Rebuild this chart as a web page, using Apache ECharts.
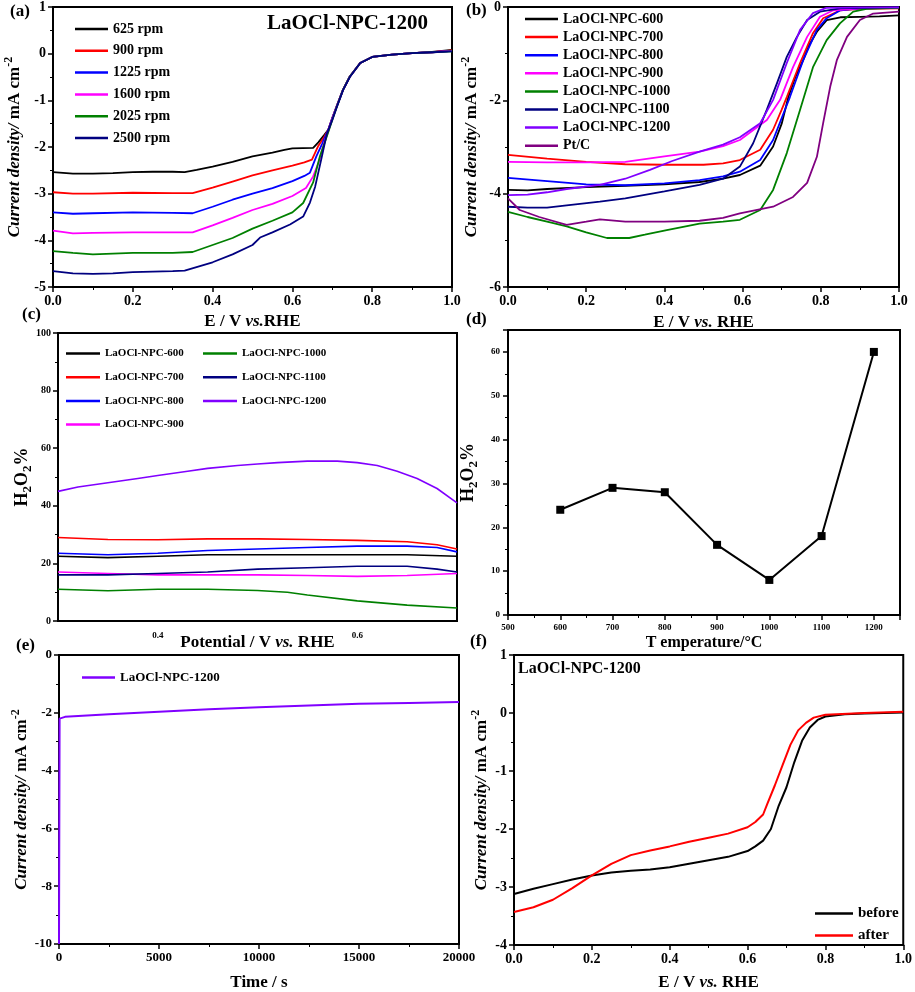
<!DOCTYPE html>
<html><head><meta charset="utf-8">
<script src="https://cdn.jsdelivr.net/npm/echarts@6/dist/echarts.min.js"></script>
<style>html,body{margin:0;padding:0;background:#fff}#c{width:915px;height:992px}</style>
</head><body><div id="c"></div>
<script>
// ---------- Panel (a): LSV at different rotation speeds ----------
const aNames = ['625 rpm','900 rpm','1225 rpm','1600 rpm','2025 rpm','2500 rpm'];
const aColors = ['#000000','#ff0000','#0000ff','#ff00ff','#008000','#000080'];
const a625 = [[0,-2.54],[0.05,-2.57],[0.1,-2.57],[0.15,-2.56],[0.2,-2.54],[0.25,-2.53],[0.3,-2.53],[0.33,-2.54],[0.36,-2.49],[0.4,-2.42],[0.45,-2.32],[0.5,-2.2],[0.55,-2.12],[0.58,-2.06],[0.6,-2.03],[0.652,-2.02],[0.665,-1.9],[0.68,-1.74],[0.69,-1.63],[0.7,-1.38],[0.711,-1.13],[0.727,-0.77],[0.744,-0.49],[0.77,-0.2],[0.8,-0.07],[0.85,-0.02],[0.9,0.01],[0.95,0.04],[1.0,0.08]];
const a900 = [[0,-2.97],[0.05,-3.0],[0.1,-3.0],[0.2,-2.98],[0.3,-2.99],[0.35,-2.99],[0.4,-2.87],[0.45,-2.74],[0.5,-2.61],[0.55,-2.5],[0.6,-2.4],[0.63,-2.33],[0.649,-2.27],[0.664,-1.99],[0.68,-1.78],[0.69,-1.63],[0.7,-1.38],[0.711,-1.13],[0.727,-0.77],[0.744,-0.49],[0.77,-0.2],[0.8,-0.07],[0.85,-0.02],[0.9,0.01],[0.95,0.03],[1.0,0.07]];
const a1225 = [[0,-3.4],[0.05,-3.43],[0.1,-3.42],[0.2,-3.4],[0.3,-3.41],[0.35,-3.42],[0.4,-3.28],[0.45,-3.13],[0.5,-3.0],[0.55,-2.88],[0.6,-2.73],[0.63,-2.62],[0.644,-2.55],[0.66,-2.2],[0.675,-1.92],[0.69,-1.63],[0.7,-1.38],[0.711,-1.13],[0.727,-0.77],[0.744,-0.49],[0.77,-0.2],[0.8,-0.07],[0.85,-0.02],[0.9,0.01],[0.95,0.03],[1.0,0.06]];
const a1600 = [[0,-3.79],[0.05,-3.85],[0.1,-3.84],[0.2,-3.83],[0.3,-3.83],[0.35,-3.83],[0.4,-3.68],[0.45,-3.52],[0.5,-3.35],[0.55,-3.22],[0.6,-3.05],[0.634,-2.88],[0.652,-2.63],[0.667,-2.3],[0.68,-1.9],[0.69,-1.66],[0.7,-1.4],[0.711,-1.13],[0.727,-0.77],[0.744,-0.49],[0.77,-0.2],[0.8,-0.07],[0.85,-0.02],[0.9,0.01],[0.95,0.03],[1.0,0.06]];
const a2025 = [[0,-4.23],[0.05,-4.27],[0.1,-4.3],[0.2,-4.27],[0.3,-4.27],[0.35,-4.25],[0.4,-4.1],[0.45,-3.95],[0.5,-3.75],[0.55,-3.58],[0.6,-3.4],[0.627,-3.2],[0.652,-2.76],[0.669,-2.2],[0.69,-1.68],[0.7,-1.42],[0.711,-1.14],[0.727,-0.77],[0.744,-0.49],[0.77,-0.2],[0.8,-0.07],[0.85,-0.02],[0.9,0.01],[0.95,0.03],[1.0,0.05]];
const a2500 = [[0,-4.66],[0.05,-4.71],[0.1,-4.72],[0.15,-4.71],[0.2,-4.68],[0.3,-4.66],[0.33,-4.65],[0.4,-4.47],[0.45,-4.3],[0.5,-4.1],[0.519,-3.94],[0.55,-3.83],[0.594,-3.66],[0.627,-3.49],[0.644,-3.19],[0.657,-2.85],[0.674,-2.2],[0.686,-1.73],[0.7,-1.42],[0.711,-1.15],[0.727,-0.78],[0.744,-0.5],[0.77,-0.2],[0.8,-0.07],[0.85,-0.02],[0.9,0.01],[0.95,0.03],[1.0,0.05]];
const aData = [a625,a900,a1225,a1600,a2025,a2500];

// ---------- Panel (b): LSV of the samples ----------
const bNames = ['LaOCl-NPC-600','LaOCl-NPC-700','LaOCl-NPC-800','LaOCl-NPC-900','LaOCl-NPC-1000','LaOCl-NPC-1100','LaOCl-NPC-1200','Pt/C'];
const bColors = ['#000000','#ff0000','#0000ff','#ff00ff','#008000','#000080','#8000ff','#800080'];
const b600 = [[0,-3.92],[0.05,-3.93],[0.1,-3.9],[0.2,-3.86],[0.3,-3.83],[0.4,-3.8],[0.49,-3.75],[0.55,-3.68],[0.593,-3.6],[0.645,-3.4],[0.678,-2.99],[0.7,-2.5],[0.717,-1.93],[0.735,-1.5],[0.755,-1.14],[0.77,-0.82],[0.79,-0.53],[0.815,-0.28],[0.85,-0.22],[0.9,-0.21],[0.95,-0.2],[1.0,-0.18]];
const b700 = [[0,-3.17],[0.1,-3.25],[0.2,-3.32],[0.3,-3.37],[0.4,-3.38],[0.5,-3.38],[0.55,-3.35],[0.593,-3.28],[0.645,-3.06],[0.678,-2.63],[0.7,-2.2],[0.713,-1.93],[0.747,-1.2],[0.78,-0.56],[0.806,-0.24],[0.85,-0.07],[0.9,-0.04],[1.0,-0.03]];
const b800 = [[0,-3.66],[0.1,-3.73],[0.2,-3.8],[0.3,-3.82],[0.4,-3.78],[0.49,-3.71],[0.55,-3.63],[0.593,-3.53],[0.645,-3.28],[0.678,-2.85],[0.721,-1.93],[0.755,-1.14],[0.79,-0.49],[0.815,-0.24],[0.85,-0.07],[0.9,-0.03],[1.0,-0.02]];
const b900 = [[0,-3.32],[0.1,-3.33],[0.2,-3.33],[0.3,-3.32],[0.4,-3.2],[0.49,-3.1],[0.55,-2.98],[0.593,-2.85],[0.662,-2.42],[0.696,-1.99],[0.729,-1.29],[0.765,-0.64],[0.798,-0.21],[0.832,-0.07],[0.9,-0.03],[1.0,-0.02]];
const b1000 = [[0,-4.39],[0.05,-4.5],[0.1,-4.6],[0.15,-4.7],[0.2,-4.83],[0.253,-4.95],[0.31,-4.95],[0.35,-4.88],[0.406,-4.78],[0.49,-4.64],[0.55,-4.6],[0.593,-4.56],[0.645,-4.35],[0.678,-3.92],[0.713,-3.13],[0.747,-2.2],[0.78,-1.29],[0.815,-0.71],[0.849,-0.35],[0.883,-0.1],[0.917,-0.04],[1.0,-0.02]];
const b1100 = [[0,-4.28],[0.05,-4.3],[0.1,-4.3],[0.15,-4.25],[0.235,-4.17],[0.3,-4.1],[0.4,-3.95],[0.49,-3.81],[0.55,-3.68],[0.593,-3.42],[0.627,-2.92],[0.662,-2.2],[0.688,-1.63],[0.713,-1.07],[0.739,-0.64],[0.765,-0.28],[0.798,-0.1],[0.85,-0.03],[1.0,-0.01]];
const b1200 = [[0,-4.03],[0.05,-4.02],[0.1,-3.97],[0.15,-3.9],[0.235,-3.81],[0.3,-3.68],[0.363,-3.49],[0.42,-3.3],[0.49,-3.1],[0.55,-2.95],[0.593,-2.79],[0.645,-2.49],[0.678,-1.99],[0.713,-1.2],[0.747,-0.49],[0.78,-0.13],[0.814,-0.02],[0.9,-0.01],[1.0,-0.01]];
const bPtC = [[0,-4.1],[0.03,-4.35],[0.08,-4.5],[0.15,-4.67],[0.2,-4.6],[0.235,-4.55],[0.3,-4.6],[0.4,-4.6],[0.49,-4.58],[0.55,-4.52],[0.593,-4.42],[0.678,-4.28],[0.729,-4.07],[0.765,-3.77],[0.79,-3.21],[0.806,-2.49],[0.824,-1.71],[0.841,-1.14],[0.867,-0.64],[0.9,-0.28],[0.934,-0.14],[1.0,-0.1]];
const bData = [b600,b700,b800,b900,b1000,b1100,b1200,bPtC];

// ---------- Panel (c): H2O2 yield vs potential ----------
const cNames = ['LaOCl-NPC-600','LaOCl-NPC-700','LaOCl-NPC-800','LaOCl-NPC-900','LaOCl-NPC-1000','LaOCl-NPC-1100','LaOCl-NPC-1200'];
const cColors = ['#000000','#ff0000','#0000ff','#ff00ff','#008000','#000080','#8000ff'];
const c600 = [[0.3,22.5],[0.35,22],[0.4,22.5],[0.45,23],[0.5,23],[0.55,23],[0.6,23],[0.65,23],[0.7,22.5]];
const c700 = [[0.3,29],[0.35,28.3],[0.4,28.2],[0.45,28.5],[0.5,28.5],[0.55,28.3],[0.6,28],[0.65,27.5],[0.68,26.5],[0.7,25]];
const c800 = [[0.3,23.5],[0.35,23],[0.4,23.5],[0.45,24.5],[0.5,25],[0.55,25.5],[0.6,26],[0.65,26],[0.68,25.5],[0.7,24]];
const c900 = [[0.3,17],[0.35,16.5],[0.4,16],[0.5,16],[0.55,15.8],[0.6,15.5],[0.65,15.8],[0.7,16.5]];
const c1000 = [[0.3,11],[0.35,10.5],[0.4,11],[0.45,11],[0.5,10.6],[0.53,10],[0.55,9],[0.6,7],[0.65,5.5],[0.7,4.5]];
const c1100 = [[0.3,16],[0.35,16],[0.4,16.5],[0.45,17],[0.5,18],[0.55,18.5],[0.6,19],[0.65,19],[0.68,18],[0.7,17]];
const c1200 = [[0.3,45],[0.32,46.5],[0.35,48],[0.38,49.5],[0.4,50.5],[0.43,52],[0.45,53],[0.48,54],[0.5,54.5],[0.52,55],[0.55,55.5],[0.58,55.5],[0.6,55],[0.62,54],[0.64,52],[0.66,49.5],[0.68,46],[0.7,41]];
const cData = [c600,c700,c800,c900,c1000,c1100,c1200];

// ---------- Panel (d): H2O2 % vs temperature ----------
const dTemps = [600,700,800,900,1000,1100,1200];
const dH2O2 = [24,29,28,16,8,18,60];

// ---------- Panel (e): chronoamperometry ----------
const eTime = [0,30,300,2500,5000,7500,10000,12500,15000,17500,20000];
const eCurrent = [-10,-2.2,-2.14,-2.05,-1.96,-1.88,-1.81,-1.75,-1.69,-1.66,-1.63];

// ---------- Panel (f): before / after ----------
const fBefore = [[0,-3.12],[0.05,-3.03],[0.1,-2.95],[0.15,-2.87],[0.2,-2.8],[0.25,-2.75],[0.3,-2.72],[0.35,-2.7],[0.4,-2.66],[0.45,-2.6],[0.5,-2.54],[0.55,-2.48],[0.6,-2.38],[0.62,-2.3],[0.64,-2.2],[0.66,-2.0],[0.68,-1.6],[0.7,-1.28],[0.72,-0.85],[0.74,-0.48],[0.76,-0.25],[0.78,-0.12],[0.8,-0.06],[0.85,-0.02],[0.9,-0.01],[1.0,0.01]];
const fAfter = [[0,-3.43],[0.05,-3.35],[0.1,-3.22],[0.15,-3.02],[0.2,-2.8],[0.25,-2.6],[0.3,-2.45],[0.35,-2.37],[0.4,-2.3],[0.45,-2.22],[0.5,-2.15],[0.55,-2.08],[0.6,-1.97],[0.62,-1.88],[0.64,-1.75],[0.65,-1.58],[0.67,-1.25],[0.69,-0.9],[0.71,-0.55],[0.73,-0.3],[0.75,-0.17],[0.77,-0.08],[0.8,-0.03],[0.9,0.0],[1.0,0.02]];

// ================= build =================
const FF = '"Liberation Serif","Times New Roman",serif';
const chart = echarts.init(document.getElementById('c'));

const grids = [
  {left:53, top:7, width:399, height:280},
  {left:508, top:7, width:391, height:280},
  {left:58, top:333, width:399, height:288},
  {left:508, top:330, width:392, height:285},
  {left:59, top:655, width:400, height:291},
  {left:514, top:655, width:390, height:291}
].map(g => Object.assign({show:true, borderColor:'#000', borderWidth:2, containLabel:false}, g));

function axisBase(fs){
  return {
    nameMoveOverlap:false,
    axisLine:{show:true, onZero:false, lineStyle:{color:'#000', width:2}},
    axisTick:{show:true, length:5, lineStyle:{color:'#000', width:1.5}},
    minorTick:{show:true, splitNumber:2, length:3, lineStyle:{color:'#000', width:1}},
    splitLine:{show:false},
    axisLabel:{color:'#000', fontFamily:FF, fontWeight:'bold', fontSize:fs, margin:7, formatter:v => String(v)}
  };
}
const nameStyle = (fs) => ({
  color:'#000', fontFamily:FF, fontWeight:'bold', fontSize:fs,
  rich:{
    n:{fontFamily:FF, fontWeight:'bold', fontSize:fs, color:'#000', lineHeight:fs+6},
    i:{fontFamily:FF, fontWeight:'bold', fontStyle:'italic', fontSize:fs, color:'#000', lineHeight:fs+6},
    s:{fontFamily:FF, fontWeight:'bold', fontSize:Math.round(fs*0.7), color:'#000', verticalAlign:'top', lineHeight:fs+6},
    sub:{fontFamily:FF, fontWeight:'bold', fontSize:Math.round(fs*0.7), color:'#000', verticalAlign:'bottom', lineHeight:fs+6}
  }
});
const curName = '{i|Current density/}{n| mA cm}{s|-2}';
const h2o2Name = '{n|H}{sub|2}{n|O}{sub|2}{n|%}';
const fmt1 = v => v.toFixed(1);

const xAxes = [
  Object.assign(axisBase(14), {gridIndex:0, type:'value', min:0, max:1, interval:0.2, name:'{n|E / V }{i|vs.}{n|RHE}', nameLocation:'middle', nameGap:23, nameTextStyle:nameStyle(17), axisLabel:Object.assign(axisBase(14).axisLabel,{formatter:fmt1})}),
  Object.assign(axisBase(14), {gridIndex:1, type:'value', min:0, max:1, interval:0.2, name:'{n|E / V }{i|vs.}{n| RHE}', nameLocation:'middle', nameGap:24, nameTextStyle:nameStyle(17), axisLabel:Object.assign(axisBase(14).axisLabel,{formatter:fmt1})}),
  Object.assign(axisBase(9), {gridIndex:2, type:'value', min:0.3, max:0.7, interval:0.1, name:'{n|Potential / V }{i|vs.}{n| RHE}', nameLocation:'middle', nameGap:10, nameTextStyle:nameStyle(17),
    axisTick:{show:false}, minorTick:{show:false},
    axisLabel:{color:'#000', fontFamily:FF, fontWeight:'bold', fontSize:9, margin:10, formatter:v => (Math.abs(v-0.4)<1e-6||Math.abs(v-0.6)<1e-6)? v.toFixed(1):''}}),
  Object.assign(axisBase(9), {gridIndex:3, type:'value', min:500, max:1250, interval:100, name:'{n|T emperature/°C}', nameLocation:'middle', nameGap:17, nameTextStyle:nameStyle(16),
    axisLabel:{color:'#000', fontFamily:FF, fontWeight:'bold', fontSize:9, margin:8, formatter:v => (v%100===0)? String(v):''}}),
  Object.assign(axisBase(13), {gridIndex:4, type:'value', min:0, max:20000, interval:5000, name:'{n|Time / s}', nameLocation:'middle', nameGap:27, nameTextStyle:nameStyle(17)}),
  Object.assign(axisBase(14), {gridIndex:5, type:'value', min:0, max:1, interval:0.2, name:'{n|E / V }{i|vs.}{n| RHE}', nameLocation:'middle', nameGap:26, nameTextStyle:nameStyle(17), axisLabel:Object.assign(axisBase(14).axisLabel,{formatter:fmt1})})
];
const yAxes = [
  Object.assign(axisBase(14), {gridIndex:0, type:'value', min:-5, max:1, interval:1, name:curName, nameLocation:'middle', nameGap:27, nameTextStyle:nameStyle(17)}),
  Object.assign(axisBase(14), {gridIndex:1, type:'value', min:-6, max:0, interval:2, name:curName, nameLocation:'middle', nameGap:25, nameTextStyle:nameStyle(17)}),
  Object.assign(axisBase(10), {gridIndex:2, type:'value', min:0, max:100, interval:20, name:h2o2Name, nameLocation:'middle', nameGap:24, nameTextStyle:nameStyle(18)}),
  Object.assign(axisBase(9), {gridIndex:3, type:'value', min:0, max:65, interval:10, name:h2o2Name, nameLocation:'middle', nameGap:28, nameTextStyle:nameStyle(18),
    axisLabel:{color:'#000', fontFamily:FF, fontWeight:'bold', fontSize:9, margin:8, formatter:v => (v%10===0)? String(v):''}}),
  Object.assign(axisBase(13), {gridIndex:4, type:'value', min:-10, max:0, interval:2, name:curName, nameLocation:'middle', nameGap:26, nameTextStyle:nameStyle(17)}),
  Object.assign(axisBase(14), {gridIndex:5, type:'value', min:-4, max:1, interval:1, name:curName, nameLocation:'middle', nameGap:21, nameTextStyle:nameStyle(17)})
];

const series = [];
function addLine(name, data, color, gi, w){
  series.push({type:'line', name:name, data:data, xAxisIndex:gi, yAxisIndex:gi, symbol:'none', smooth:false,
    lineStyle:{color:color, width:w||1.8}, itemStyle:{color:color}, animation:false});
}
aNames.forEach((n,i)=>addLine(n, aData[i], aColors[i], 0));
bNames.forEach((n,i)=>addLine(n, bData[i], bColors[i], 1));
cNames.forEach((n,i)=>addLine(n, cData[i], cColors[i], 2, 1.6));
series.push({type:'line', name:'H2O2', data:dTemps.map((t,i)=>[t,dH2O2[i]]), xAxisIndex:3, yAxisIndex:3,
  symbol:'rect', symbolSize:8, lineStyle:{color:'#000', width:2}, itemStyle:{color:'#000'}, animation:false});
addLine('LaOCl-NPC-1200 ', eTime.map((t,i)=>[t,eCurrent[i]]), '#8000ff', 4, 2);
addLine('before', fBefore, '#000000', 5, 2);
addLine('after', fAfter, '#ff0000', 5, 2);

const legTxt = (fs) => ({color:'#000', fontFamily:FF, fontWeight:'bold', fontSize:fs, lineHeight:fs});
const legBase = {orient:'vertical', icon:'rect', itemHeight:2.5, selectedMode:false};
const legends = [
  Object.assign({}, legBase, {data:aNames, left:70, top:17, itemWidth:33, itemGap:7.8, textStyle:legTxt(14)}),
  Object.assign({}, legBase, {data:bNames, left:520, top:7, itemWidth:33, itemGap:4.1, textStyle:legTxt(14)}),
  Object.assign({}, legBase, {data:cNames.slice(0,4), left:61, top:343, itemWidth:34, itemGap:12.7, textStyle:legTxt(11)}),
  Object.assign({}, legBase, {data:cNames.slice(4), left:198, top:343, itemWidth:34, itemGap:12.7, textStyle:legTxt(11)}),
  Object.assign({}, legBase, {data:['LaOCl-NPC-1200 '], left:77, top:666, itemWidth:33, textStyle:legTxt(13)}),
  Object.assign({}, legBase, {data:['before','after'], left:810, top:901, itemWidth:38, itemGap:7, textStyle:legTxt(15)})
];

const tStyle = (fs) => ({color:'#000', fontFamily:FF, fontWeight:'bold', fontSize:fs});
const titles = [
  {text:'LaOCl-NPC-1200', left:267, top:13, textStyle:tStyle(21), padding:0},
  {text:'LaOCl-NPC-1200', left:518, top:661, textStyle:tStyle(16), padding:0},
  {text:'(a)', left:10, top:3, textStyle:tStyle(17), padding:0},
  {text:'(b)', left:466, top:2, textStyle:tStyle(17), padding:0},
  {text:'(c)', left:22, top:306, textStyle:tStyle(17), padding:0},
  {text:'(d)', left:466, top:311, textStyle:tStyle(17), padding:0},
  {text:'(e)', left:16, top:637, textStyle:tStyle(17), padding:0},
  {text:'(f)', left:470, top:633, textStyle:tStyle(17), padding:0}
];

chart.setOption({
  backgroundColor:'#fff',
  animation:false,
  title:titles,
  legend:legends,
  grid:grids,
  xAxis:xAxes,
  yAxis:yAxes,
  series:series
});
</script></body></html>
